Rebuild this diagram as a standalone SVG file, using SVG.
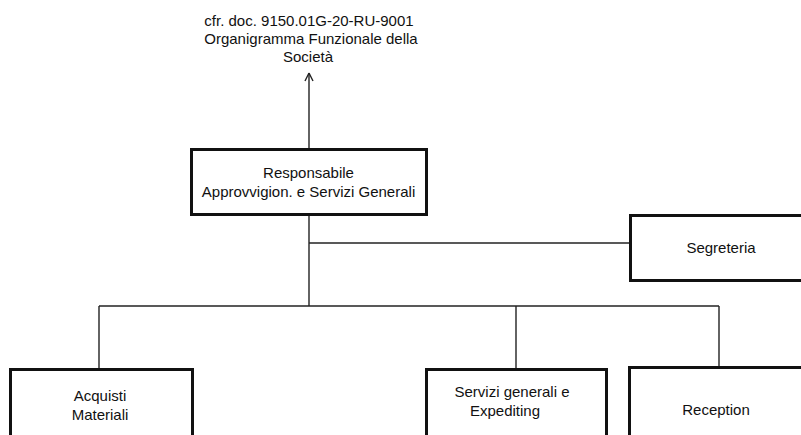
<svg xmlns="http://www.w3.org/2000/svg" width="801" height="435" viewBox="0 0 801 435">
  <style>
    .box { fill: #ffffff; stroke: #111111; stroke-width: 3; }
    .wire { fill: none; stroke: #222222; stroke-width: 1.4; }
    .label { font-family: "Liberation Sans", Arial, sans-serif; font-size: 15px; fill: #111111; text-anchor: middle; }
  </style>
  <defs>
    <marker id="openArrow" markerWidth="12" markerHeight="12" refX="6" refY="1" orient="auto-start-reverse" markerUnits="userSpaceOnUse" viewBox="0 0 12 12">
      <path d="M2,8 L6,1 L10,8" fill="none" stroke="#222222" stroke-width="1.4"/>
    </marker>
  </defs>
  <rect width="801" height="435" fill="#ffffff"/>

  <!-- reference note above the chart -->
  <g id="ref-note">
    <text class="label" x="309" y="26">cfr. doc. 9150.01G-20-RU-9001</text>
    <text class="label" x="311" y="44">Organigramma Funzionale della</text>
    <text class="label" x="308" y="62">Società</text>
  </g>

  <!-- connectors -->
  <g id="connectors">
    <line class="wire" x1="309" y1="149" x2="309" y2="73"/>
    <path class="wire" d="M309,73 L305,81 M309,73 L313,81"/>
    <line class="wire" x1="309" y1="214" x2="309" y2="306"/>
    <line class="wire" x1="309" y1="243" x2="630" y2="243"/>
    <line class="wire" x1="99" y1="306" x2="719" y2="306"/>
    <line class="wire" x1="99" y1="306" x2="99" y2="369"/>
    <line class="wire" x1="516" y1="306" x2="516" y2="369"/>
    <line class="wire" x1="719" y1="306" x2="719" y2="367"/>
  </g>

  <g id="responsabile">
    <rect class="box" x="191.5" y="149.5" width="235" height="65"/>
    <text class="label" x="308.5" y="178">Responsabile</text>
    <text class="label" x="308.5" y="197">Approvvigion. e Servizi Generali</text>
  </g>

  <g id="segreteria">
    <rect class="box" x="630.5" y="215.5" width="200" height="65"/>
    <text class="label" x="721" y="253">Segreteria</text>
  </g>

  <g id="acquisti">
    <rect class="box" x="10.5" y="369.5" width="182" height="100"/>
    <text class="label" x="100" y="401">Acquisti</text>
    <text class="label" x="100" y="420">Materiali</text>
  </g>

  <g id="servizi-generali">
    <rect class="box" x="426.5" y="369.5" width="180" height="100"/>
    <text class="label" x="512" y="397">Servizi generali e</text>
    <text class="label" x="505" y="416">Expediting</text>
  </g>

  <g id="reception">
    <rect class="box" x="629.5" y="367.5" width="200" height="100"/>
    <text class="label" x="716" y="415">Reception</text>
  </g>
</svg>
